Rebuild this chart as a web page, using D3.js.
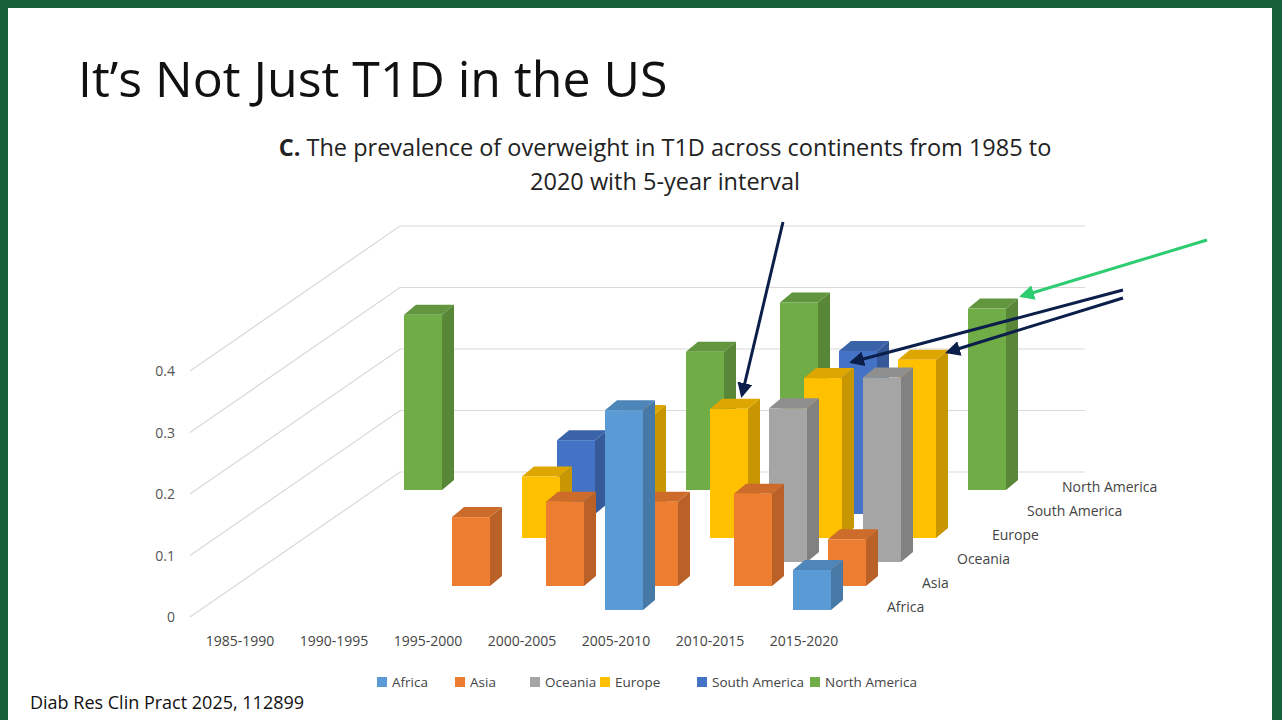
<!DOCTYPE html>
<html><head><meta charset="utf-8">
<script src="https://cdn.jsdelivr.net/npm/d3@7"></script>
<style>body{margin:0;background:#17603a;font-family:"Open Sans",sans-serif}</style>
</head><body><svg width="1282" height="720"></svg>
<script>
var categories = ['1985-1990','1990-1995','1995-2000','2000-2005','2005-2010','2010-2015','2015-2020'];
var seriesNames = ['Africa','Asia','Oceania','Europe','South America','North America'];
var africa = [null,null,null,null,0.325,null,0.065];
var asia = [null,null,0.112,0.137,0.137,0.15,0.076];
var oceania = [null,null,null,null,null,0.25,0.30];
var europe = [null,null,0.10,0.20,0.21,0.26,0.29];
var southAmerica = [null,null,0.12,null,null,0.265,null];
var northAmerica = [0.285,null,null,0.225,0.305,null,0.295];
var yTicks = [0,0.1,0.2,0.3,0.4];
var colors = ['#5B9BD5','#ED7D31','#A5A5A5','#FFC000','#4472C4','#70AD47'];

(function(){
  var svg = d3.select('svg');
  svg.append('rect').attr('x',8).attr('y',8).attr('width',1264).attr('height',712).attr('fill','#fff');
  svg.append('text').attr('x',78).attr('y',97).attr('font-size',50).attr('fill','#111').text('It\u2019s Not Just T1D in the US');
  var t = svg.append('text').attr('font-size',23.5).attr('text-anchor','middle').attr('fill','#222');
  t.append('tspan').attr('x',665).attr('y',156).html('<tspan font-weight="bold">C.</tspan> The prevalence of overweight in T1D across continents from 1985 to');
  t.append('tspan').attr('x',665).attr('y',190).text('2020 with 5-year interval');

  var data = [africa,asia,oceania,europe,southAmerica,northAmerica];
  var x = d3.scalePoint().domain(categories).range([229,229+94*6]);
  var h = d3.scaleLinear().domain([0,0.4]).range([0,246]);
  var rowDx = 35, rowDy = -24, bw = 38, sx = 12, sy = -10;
  var depthX = 200, depthY = -145;

  // walls / grid
  var g = svg.append('g');
  yTicks.forEach(function(v){
    var y0 = 617 - h(v);
    g.append('path').attr('d','M190,'+y0+'L'+(190+depthX+10)+','+(y0+depthY)+'H1085')
      .attr('fill','none').attr('stroke','#d9d9d9').attr('stroke-width',1.2);
    g.append('text').attr('x',175).attr('y',y0+5).attr('text-anchor','end').attr('font-size',14).attr('fill','#555').text(v===0?'0':v);
  });
  categories.forEach(function(c){
    g.append('text').attr('x',x(c)+11).attr('y',646).attr('text-anchor','middle').attr('font-size',14).attr('fill','#444').text(c);
  });
  seriesNames.forEach(function(s,r){
    g.append('text').attr('x',887+r*35).attr('y',612-r*24).attr('font-size',14).attr('fill','#444').text(s);
  });

  // bars back to front
  for (var r = data.length-1; r >= 0; r--) {
    data[r].forEach(function(v,i){
      if (v == null) return;
      var x0 = x(categories[i]) + r*rowDx, yb = 610 + r*rowDy, yt = yb - h(v);
      var c = d3.color(colors[r]);
      var bg = svg.append('g');
      bg.append('path').attr('d','M'+(x0+bw)+','+yb+'L'+(x0+bw+sx)+','+(yb+sy)+'L'+(x0+bw+sx)+','+(yt+sy)+'L'+(x0+bw)+','+yt+'Z').attr('fill',c.darker(0.7));
      bg.append('path').attr('d','M'+x0+','+yt+'L'+(x0+sx)+','+(yt+sy)+'L'+(x0+bw+sx)+','+(yt+sy)+'L'+(x0+bw)+','+yt+'Z').attr('fill',c.darker(0.4));
      bg.append('rect').attr('x',x0).attr('y',yt).attr('width',bw).attr('height',yb-yt).attr('fill',colors[r]);
    });
  }

  // legend
  var lx = [377,455,530,600,697,810];
  seriesNames.forEach(function(s,i){
    svg.append('rect').attr('x',lx[i]).attr('y',677).attr('width',10).attr('height',10).attr('fill',colors[i]);
    svg.append('text').attr('x',lx[i]+15).attr('y',687).attr('font-size',13.5).attr('fill','#444').text(s);
  });
  svg.append('text').attr('x',30).attr('y',709).attr('font-size',18).attr('fill','#111').text('Diab Res Clin Pract 2025, 112899');

  // arrows
  var defs = svg.append('defs');
  [['navy','#0b1f4a'],['grn','#2ecc71']].forEach(function(m){
    defs.append('marker').attr('id',m[0]).attr('viewBox','0 0 10 10').attr('refX',8).attr('refY',5)
      .attr('markerWidth',5).attr('markerHeight',5).attr('orient','auto')
      .append('path').attr('d','M0,0L10,5L0,10Z').attr('fill',m[1]);
  });
  [[783,222,742,395,'navy','#0b1f4a'],[1123,290,852,362,'navy','#0b1f4a'],[1123,298,948,352,'navy','#0b1f4a'],[1207,240,1022,296,'grn','#2ecc71']].forEach(function(a){
    svg.append('line').attr('x1',a[0]).attr('y1',a[1]).attr('x2',a[2]).attr('y2',a[3])
      .attr('stroke',a[5]).attr('stroke-width',3).attr('marker-end','url(#'+a[4]+')');
  });
})();
</script></body></html>
